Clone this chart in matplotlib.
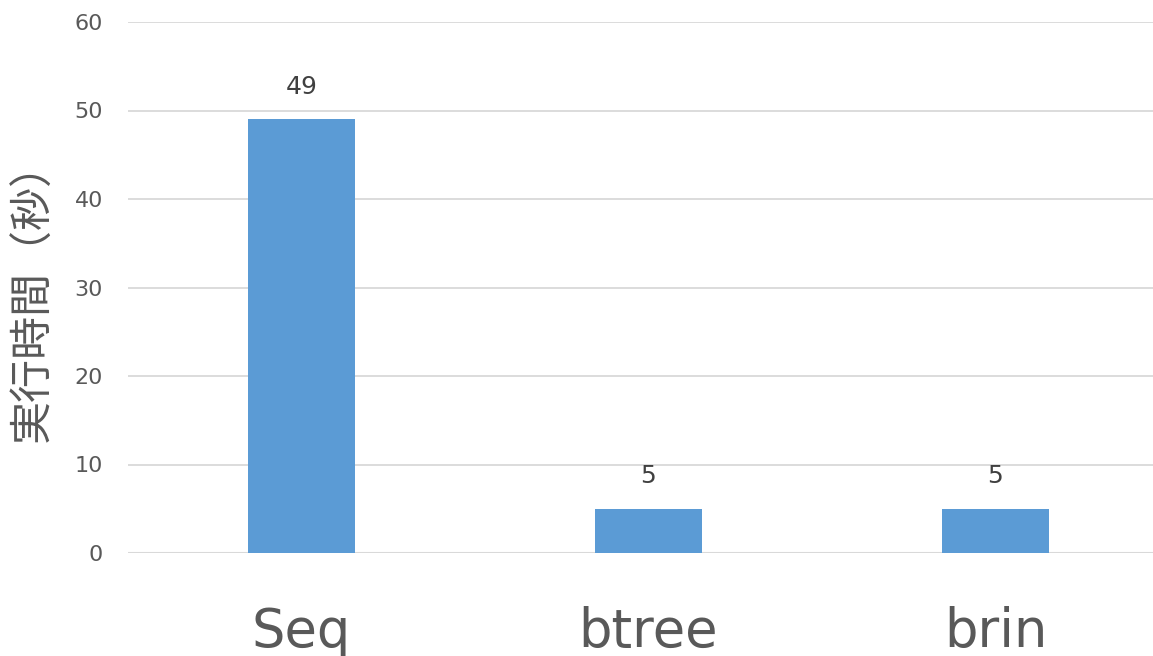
import matplotlib
matplotlib.use('Agg')
import matplotlib.pyplot as plt
import numpy as np

plt.rcParams['font.family'] = ['DejaVu Sans', 'Noto Sans CJK JP']

# 実行時間 (秒)
categories = ['Seq', 'btree', 'brin']
seconds = [49, 5, 5]

BAR = '#5B9BD5'
TXT = '#595959'
GRID = '#D9D9D9'

fig = plt.figure(figsize=(11.53, 6.56), dpi=100)
ax = fig.add_axes([128 / 1153, 103 / 656, 1041 / 1153, 531 / 656])

x = np.arange(len(categories))
bars = ax.bar(x, seconds, width=0.31, color=BAR, zorder=3)

for b, v in zip(bars, seconds):
    ax.annotate(f'{v}', (b.get_x() + b.get_width() / 2, v),
                xytext=(0, 15), textcoords='offset points',
                ha='center', va='bottom', fontsize=18, color='#404040')

ax.set_xlim(-0.5, 2.5)
ax.set_ylim(0, 60)
ax.set_yticks(range(0, 61, 10))
ax.yaxis.grid(True, color=GRID, lw=1.3, zorder=0)
ax.set_xticks(x)
ax.set_xticklabels(categories, fontsize=38, color=TXT)
ax.tick_params(axis='x', length=0, pad=38)
ax.tick_params(axis='y', length=0, pad=18, labelsize=16, labelcolor=TXT)
for s in ax.spines.values():
    s.set_visible(False)
ax.axhline(0, color=GRID, lw=1.5, zorder=2)

fig.text(34 / 1153, 1 - 292 / 656, '実行時間（秒）', rotation=90,
         ha='center', va='center', fontsize=31, color=TXT,
         family=['Noto Sans CJK JP'])

fig.savefig('out.png', dpi=100, facecolor='white')
